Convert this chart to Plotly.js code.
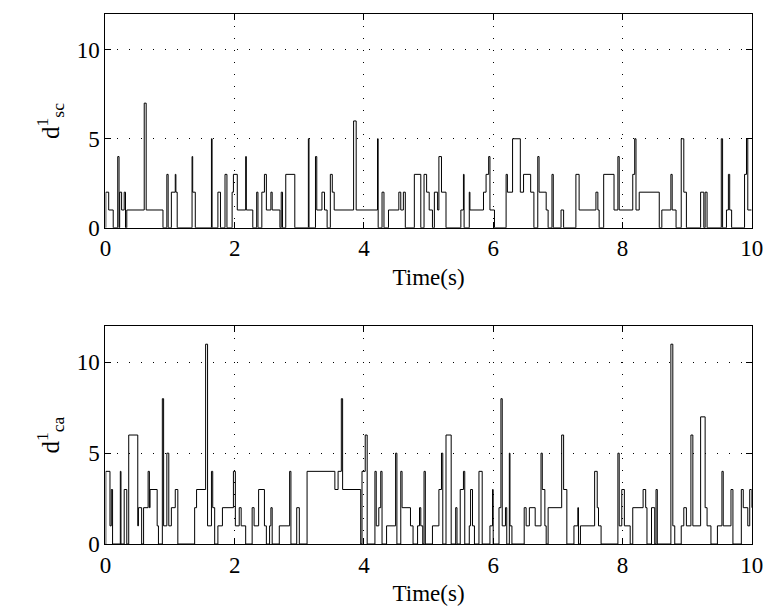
<!DOCTYPE html>
<html>
<head>
<meta charset="utf-8">
<script src="https://cdn.plot.ly/plotly-3.0.1.min.js"></script>
<style>body{margin:0;background:#fff}</style>
</head>
<body>
<div id="container" style="width:767px;height:614px"></div>
<script>
// change points of the step signals: time (s) and new value
var tSc = [0,0.005,0.05,0.12,0.19,0.21,0.22,0.25,0.29,0.31,0.33,0.60,0.63,0.89,0.95,0.97,1.02,1.08,1.09,1.11,1.34,1.35,1.39,1.64,1.65,1.74,1.78,1.85,1.88,1.96,1.98,2.04,2.17,2.18,2.28,2.34,2.36,2.42,2.46,2.49,2.56,2.58,2.70,2.72,2.74,2.79,2.93,3.14,3.15,3.25,3.27,3.35,3.39,3.43,3.48,3.51,3.54,3.84,3.88,4.21,4.22,4.28,4.31,4.38,4.54,4.57,4.61,4.64,4.78,4.88,
  4.93,4.97,5.01,5.06,5.09,5.14,5.16,5.20,5.27,5.50,5.54,5.55,5.63,5.64,5.85,5.89,5.93,5.95,6.02,6.20,6.22,6.30,6.42,6.47,6.58,6.63,6.69,6.71,6.82,6.85,6.91,6.93,7.05,7.09,7.28,7.33,7.59,7.62,7.64,7.71,7.87,7.93,7.95,8.16,8.19,8.21,8.26,8.57,8.61,8.75,8.77,8.83,8.91,8.95,8.99,9.21,9.26,9.28,9.31,9.53,9.55,9.61,9.64,9.66,9.69,9.89,9.92,9.94,10];
var vSc = [0,2,1,0,4,0,2,1,2,0,1,7,1,0,3,0,2,3,2,0,4,2,0,5,0,2,0,3,0,2,3,1,4,1,0,2,0,2,3,1,2,1,0,2,0,3,0,5,0,4,1,2,1,0,3,2,1,6,1,5,0,2,0,1,2,1,2,0,3,0,
  3,2,1,0,2,1,4,2,0,1,3,0,2,1,2,3,4,1,0,3,2,5,2,3,2,0,4,2,1,0,3,0,1,0,3,1,2,1,0,3,1,4,1,3,5,1,2,0,1,3,1,0,5,2,0,2,0,2,0,5,0,1,3,1,0,3,5,1,1];

var tCa = [0,0.005,0.07,0.09,0.11,0.23,0.24,0.29,0.33,0.36,0.50,0.51,0.56,0.59,0.66,0.68,0.69,0.80,0.82,0.88,0.90,0.95,0.98,1.02,1.08,1.12,1.38,1.41,1.55,1.58,1.64,1.66,1.69,1.74,1.81,1.98,2.01,2.07,2.10,2.17,2.27,2.30,2.37,2.46,2.49,2.54,2.56,2.58,2.69,2.85,2.87,2.96,3.00,3.12,3.55,3.60,3.65,3.67,3.95,3.97,4.02,4.05,4.17,4.19,4.23,4.26,4.28,4.35,4.49,4.51,4.57,4.59,4.72,4.76,4.83,4.86,4.88,4.91,4.93,
  4.95,5.06,5.16,5.20,5.22,5.27,5.35,5.42,5.44,5.49,5.54,5.56,5.63,5.65,5.68,5.71,5.78,5.83,5.95,5.99,6.00,6.09,6.12,6.14,6.19,6.21,6.25,6.26,6.29,6.48,6.51,6.56,6.65,6.74,6.76,6.80,6.82,6.85,7.06,7.09,7.14,7.25,7.31,7.32,7.35,7.57,7.61,7.63,7.67,7.93,7.95,7.99,8.03,8.12,8.16,8.32,8.36,8.38,8.45,8.50,8.52,8.54,8.75,8.78,8.81,8.91,8.95,8.99,9.06,9.09,9.21,9.28,9.31,9.37,9.47,9.54,9.56,9.68,9.71,9.84,9.87,9.94,9.97,10];
var vCa = [0,4,1,3,0,4,0,3,0,6,1,2,0,2,4,2,3,1,0,8,1,5,1,2,3,0,2,3,11,1,4,2,0,1,2,4,1,2,1,0,2,1,3,1,0,1,2,0,1,4,0,2,0,4,3,4,8,3,0,4,6,0,4,1,2,4,0,1,5,0,4,2,1,0,1,2,1,0,4,
  0,1,3,5,0,6,0,2,0,3,4,0,1,3,1,0,4,0,1,3,0,2,8,1,2,0,5,1,0,2,1,2,1,5,3,1,0,2,6,3,0,1,2,0,1,4,2,1,0,5,1,3,1,0,2,3,2,0,2,0,3,0,11,1,0,1,2,1,6,1,7,2,1,0,1,4,1,3,0,3,2,1,3,2];

var xTicks = [0, 2, 4, 6, 8, 10];
var yTicks = [0, 5, 10];

var fnt = {family: 'Liberation Serif, Times New Roman, serif', size: 23, color: '#000'};
var yfnt = {family: 'Liberation Serif, Times New Roman, serif', size: 25, color: '#000'};

function axX(anchor) {
  return {anchor: anchor, domain: [0.1375, 0.98], range: [0, 10], tickvals: xTicks,
    showgrid: true, gridcolor: '#000', griddash: '1px,11px', gridwidth: 1, zeroline: false,
    showline: true, mirror: 'ticks', linecolor: '#000', linewidth: 1,
    ticks: 'inside', ticklen: 6, tickcolor: '#000', tickfont: fnt,
    title: {text: 'Time(s)', font: fnt, standoff: 8}};
}
function axY(anchor, dom, label) {
  return {anchor: anchor, domain: dom, range: [0, 12], tickvals: yTicks,
    showgrid: true, gridcolor: '#000', griddash: '1px,11px', gridwidth: 1, zeroline: false,
    showline: true, mirror: 'ticks', linecolor: '#000', linewidth: 1,
    ticks: 'inside', ticklen: 6, tickcolor: '#000', tickfont: fnt,
    title: {text: label, font: yfnt, standoff: 10}};
}

var traces = [
  {x: tSc, y: vSc, xaxis: 'x', yaxis: 'y', mode: 'lines', line: {shape: 'hv', color: '#000', width: 1}},
  {x: tCa, y: vCa, xaxis: 'x2', yaxis: 'y2', mode: 'lines', line: {shape: 'hv', color: '#000', width: 1}}
];

var layout = {
  width: 767, height: 614, showlegend: false,
  margin: {l: 0, r: 0, t: 0, b: 0},
  paper_bgcolor: '#fff', plot_bgcolor: '#fff',
  xaxis: axX('y'),
  yaxis: axY('x', [0.629, 0.977], 'd<sup>1</sup><sub>sc</sub>'),
  xaxis2: axX('y2'),
  yaxis2: axY('x2', [0.114, 0.469], 'd<sup>1</sup><sub>ca</sub>')
};

Plotly.newPlot('container', traces, layout, {displayModeBar: false, staticPlot: true});
</script>
</body>
</html>
